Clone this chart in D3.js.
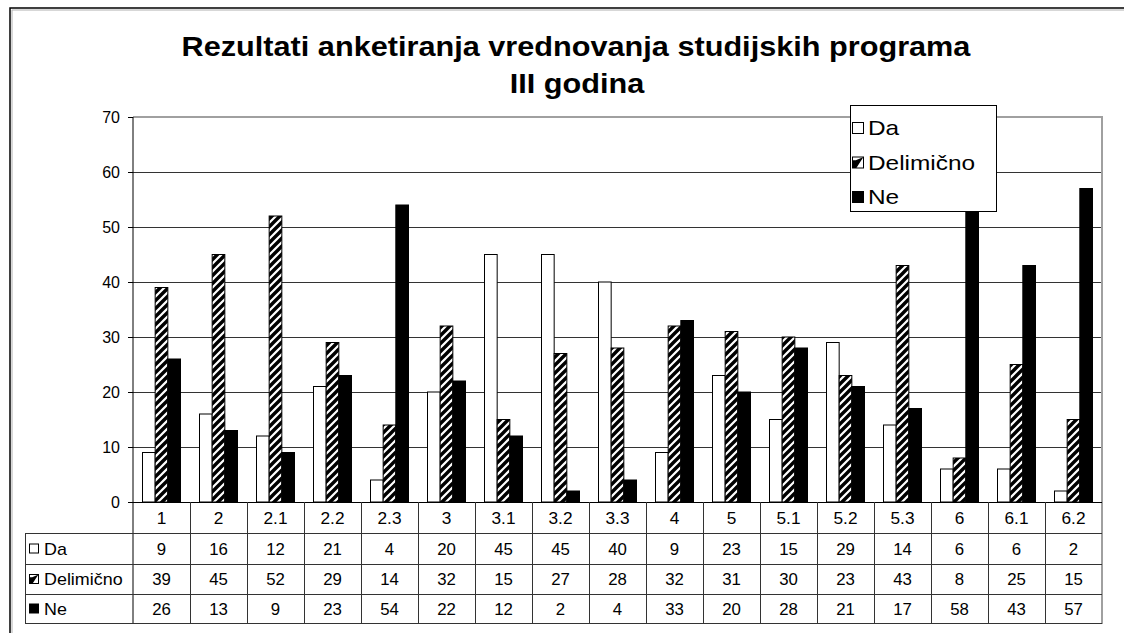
<!DOCTYPE html>
<html>
<head>
<meta charset="utf-8">
<script src="https://cdn.jsdelivr.net/npm/d3@7"></script>
<style>
  body { margin: 0; background: #fff; }
  svg { display: block; font-family: "Liberation Sans", Arial, sans-serif; }
</style>
</head>
<body>
<div id="chart"></div>
<script>
const categories = ["1", "2", "2.1", "2.2", "2.3", "3", "3.1", "3.2", "3.3", "4", "5", "5.1", "5.2", "5.3", "6", "6.1", "6.2"];
const seriesNames = ["Da", "Delimično", "Ne"];
const da        = [9, 16, 12, 21, 4, 20, 45, 45, 40, 9, 23, 15, 29, 14, 6, 6, 2];
const delimicno = [39, 45, 52, 29, 14, 32, 15, 27, 28, 32, 31, 30, 23, 43, 8, 25, 15];
const ne        = [26, 13, 9, 23, 54, 22, 12, 2, 4, 33, 20, 28, 21, 17, 58, 43, 57];
const yTicks = [0, 10, 20, 30, 40, 50, 60, 70];

const width = 1124, height = 633;
const plot = { left: 133, right: 1102, top: 117, bottom: 502 };
const rowTops = [502, 533, 564, 594, 623];
const tableLeft = 25;

const svg = d3.select("#chart").append("svg")
    .attr("width", width)
    .attr("height", height);

// hatch pattern for "Delimično"
const defs = svg.append("defs");
const pat = defs.append("pattern")
    .attr("id", "hatch")
    .attr("patternUnits", "userSpaceOnUse")
    .attr("width", 8)
    .attr("height", 8);
pat.append("rect").attr("width", 8).attr("height", 8).attr("fill", "#fff");
pat.append("path")
    .attr("d", "M-2,2 L2,-2 M0,8 L8,0 M6,10 L10,6")
    .attr("stroke", "#000")
    .attr("stroke-width", 3.4);

const fills = { "Da": "#fff", "Delimično": "url(#hatch)", "Ne": "#000" };
const values = { "Da": da, "Delimično": delimicno, "Ne": ne };

// text drawn a bit wider than the font, like the original
function wideText(g, x, y, str, size, sx, anchor) {
  return g.append("text")
      .attr("transform", `translate(${x},${y}) scale(${sx},1)`)
      .attr("text-anchor", anchor || "start")
      .attr("font-size", size)
      .attr("fill", "#000")
      .text(str);
}

// small legend key
function swatch(g, x, y, s, size) {
  g.append("rect").attr("x", x).attr("y", y).attr("width", size).attr("height", size)
      .attr("fill", s === "Delimično" ? "#fff" : fills[s]).attr("stroke", "#000");
  if (s === "Delimično") {
    // black lower-left wedge with a white diagonal edge
    g.append("path")
        .attr("d", `M${x},${y + size} L${x},${y + size * 0.3} L${x + size * 0.3},${y + size * 0.3} L${x + size},${y} L${x + size * 0.7},${y + size * 0.45} L${x + size * 0.35},${y + size} Z`)
        .attr("fill", "#000");
  }
}

// outer chart frame (left + top, the rest runs off the picture)
svg.append("path")
    .attr("d", `M11,${height} L11,9 L${width},9`)
    .attr("fill", "none")
    .attr("stroke", "#b0b0b0")
    .attr("stroke-width", 1)
    .attr("transform", "translate(1,1)");
svg.append("path")
    .attr("d", `M10,${height} L10,8 L${width},8`)
    .attr("fill", "none")
    .attr("stroke", "#000")
    .attr("stroke-width", 1.5);

// title
const titleG = svg.append("g").attr("font-weight", "bold");
wideText(titleG, 576, 56, "Rezultati anketiranja vrednovanja studijskih programa", 28, 1.095, "middle");
wideText(titleG, 577, 93, "III godina", 28, 1.095, "middle");

// scales
const y = d3.scaleLinear().domain([0, 70]).range([plot.bottom, plot.top]);
const x = d3.scaleBand().domain(categories).range([plot.left, plot.right]);
const xs = d3.scaleBand().domain(seriesNames).range([0, x.bandwidth()]).paddingOuter(0.75);

// gridlines
svg.append("g")
    .selectAll("line")
    .data(yTicks.filter(d => d > 0))
    .join("line")
    .attr("x1", plot.left).attr("x2", plot.right)
    .attr("y1", d => Math.round(y(d)) + 0.5).attr("y2", d => Math.round(y(d)) + 0.5)
    .attr("stroke", "#333")
    .attr("stroke-width", 1);

// bars
const groups = svg.append("g")
    .selectAll("g")
    .data(seriesNames)
    .join("g");
groups.selectAll("rect")
    .data(s => categories.map((c, i) => ({ s, c, v: values[s][i] })))
    .join("rect")
    .attr("x", d => x(d.c) + xs(d.s))
    .attr("y", d => y(d.v))
    .attr("width", xs.bandwidth())
    .attr("height", d => y(0) - y(d.v))
    .attr("fill", d => fills[d.s])
    .attr("stroke", "#000")
    .attr("stroke-width", 1);

// plot area border (top/right in gray)
svg.append("path")
    .attr("d", `M${plot.left},${plot.top} L${plot.right},${plot.top} L${plot.right},${rowTops[4] + 1}`)
    .attr("fill", "none")
    .attr("stroke", "#a0a0a0")
    .attr("stroke-width", 2);

// y axis
const yAxis = svg.append("g")
    .attr("transform", `translate(${plot.left},0)`)
    .call(d3.axisLeft(y).tickValues(yTicks).tickSize(5).tickPadding(8));
yAxis.select(".domain").remove();
yAxis.selectAll("line").attr("stroke", "#000");
yAxis.selectAll("text")
    .attr("font-size", 16)
    .attr("font-family", "Liberation Sans, Arial, sans-serif")
    .attr("fill", "#000");
svg.append("line")
    .attr("x1", plot.left).attr("x2", plot.left)
    .attr("y1", plot.top).attr("y2", rowTops[4])
    .attr("stroke", "#000");

// data table
const table = svg.append("g");
rowTops.forEach((ty, i) => {
  table.append("line")
    .attr("x1", i === 0 ? plot.left : tableLeft)
    .attr("x2", plot.right)
    .attr("y1", ty + 0.5).attr("y2", ty + 0.5)
    .attr("stroke", i === 0 ? "#000" : "#333");
});
table.selectAll(".vline")
    .data(categories.slice(1))
    .join("line")
    .attr("class", "vline")
    .attr("x1", d => Math.round(x(d)) + 0.5).attr("x2", d => Math.round(x(d)) + 0.5)
    .attr("y1", rowTops[0]).attr("y2", rowTops[4])
    .attr("stroke", "#333");
table.append("line")
    .attr("x1", tableLeft + 0.5).attr("x2", tableLeft + 0.5)
    .attr("y1", rowTops[1]).attr("y2", rowTops[4])
    .attr("stroke", "#333");

// category labels
categories.forEach(c => {
  wideText(table, x(c) + x.bandwidth() / 2, (rowTops[0] + rowTops[1]) / 2 + 6, c, 16, 1.08, "middle");
});

// value rows
seriesNames.forEach((s, r) => {
  const mid = (rowTops[r + 1] + rowTops[r + 2]) / 2;
  swatch(table, tableLeft + 4.5, mid - 4.5, s, 9);
  wideText(table, tableLeft + 19, mid + 6, s, 16, 1.12, "start");
  values[s].forEach((v, i) => {
    wideText(table, x(categories[i]) + x.bandwidth() / 2, mid + 6, v, 16, 1.05, "middle");
  });
});

// legend
const legend = svg.append("g").attr("transform", "translate(850,105)");
legend.append("rect")
    .attr("x", 0.5).attr("y", 0.5)
    .attr("width", 146).attr("height", 106)
    .attr("fill", "#fff")
    .attr("stroke", "#000");
seriesNames.forEach((s, i) => {
  const cy = 23 + i * 34.5;
  swatch(legend, 2.5, cy - 5.5, s, 11);
  wideText(legend, 18, cy + 7, s, 20, 1.22, "start");
});
</script>
</body>
</html>
